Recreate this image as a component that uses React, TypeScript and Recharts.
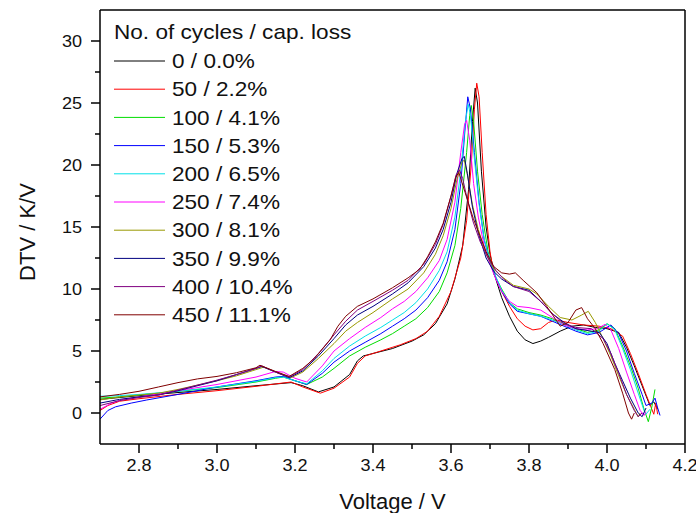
import React from 'react';
import { LineChart, Line, XAxis, YAxis, ReferenceLine } from 'recharts';

// ---- data: [Voltage (V), DTV (K/V)] ----
const c0: [number, number][] = [[2.70,1.1],[2.75,1.25],[2.80,1.4],[2.90,1.65],[3.00,1.9],[3.10,2.2],[3.19,2.45],[3.22,2.2],[3.26,1.7],[3.30,2.1],[3.34,3.1],[3.36,4.2],[3.375,4.6],[3.40,4.8],[3.45,5.2],[3.50,5.8],[3.53,6.3],[3.56,7.2],[3.59,8.8],[3.61,10.8],[3.63,13.5],[3.645,18.0],[3.655,23.5],[3.662,26.2],[3.668,25.0],[3.678,19.5],[3.69,15.0],[3.70,12.8],[3.715,10.8],[3.73,9.3],[3.75,7.8],[3.77,6.6],[3.79,5.9],[3.81,5.6],[3.83,5.8],[3.85,6.1],[3.88,6.6],[3.91,7.0],[3.94,7.1],[3.97,6.9],[4.00,6.8],[4.03,6.5],[4.05,5.3],[4.07,3.8],[4.09,2.2],[4.11,0.6],[4.12,0.9],[4.13,0.3]];
const c50: [number, number][] = [[2.70,0.2],[2.72,0.6],[2.75,0.95],[2.80,1.15],[2.90,1.5],[3.00,1.8],[3.10,2.15],[3.19,2.5],[3.22,2.1],[3.265,1.6],[3.30,2.0],[3.34,2.9],[3.36,4.0],[3.38,4.6],[3.42,5.0],[3.47,5.5],[3.51,6.0],[3.54,6.6],[3.57,7.8],[3.60,9.8],[3.625,12.5],[3.64,15.5],[3.652,20.0],[3.66,24.5],[3.666,26.6],[3.672,25.5],[3.68,21.0],[3.69,16.0],[3.70,13.0],[3.71,11.2],[3.73,9.8],[3.75,8.6],[3.77,7.6],[3.79,7.0],[3.81,6.7],[3.83,6.8],[3.85,7.3],[3.87,7.5],[3.90,7.3],[3.94,7.1],[3.98,7.0],[4.01,6.8],[4.04,6.2],[4.06,4.8],[4.08,3.2],[4.10,1.5],[4.115,0.3],[4.12,-0.1],[4.125,0.8],[4.13,-0.1]];
const c100: [number, number][] = [[2.70,1.2],[2.75,1.3],[2.80,1.45],[2.90,1.75],[3.00,2.05],[3.10,2.5],[3.15,2.8],[3.17,2.9],[3.20,2.6],[3.23,2.3],[3.27,2.9],[3.30,3.6],[3.34,4.6],[3.38,5.3],[3.42,5.9],[3.45,6.4],[3.48,7.0],[3.51,7.6],[3.54,8.5],[3.57,9.8],[3.59,11.3],[3.61,13.5],[3.625,16.5],[3.64,21.0],[3.648,24.0],[3.652,24.8],[3.658,23.5],[3.668,19.5],[3.68,16.0],[3.695,13.0],[3.71,11.2],[3.73,10.0],[3.75,8.9],[3.77,8.4],[3.80,8.1],[3.83,7.9],[3.86,7.6],[3.89,7.2],[3.92,6.8],[3.95,6.5],[3.98,6.7],[4.00,7.2],[4.02,6.8],[4.04,5.4],[4.06,3.8],[4.08,2.0],[4.095,0.3],[4.106,-0.7],[4.115,0.5],[4.123,1.9]];
const c150: [number, number][] = [[2.70,-0.5],[2.72,0.2],[2.74,0.5],[2.78,0.8],[2.82,1.05],[2.90,1.5],[3.00,2.1],[3.10,2.6],[3.15,2.9],[3.17,2.95],[3.20,2.6],[3.23,2.3],[3.27,3.2],[3.30,4.1],[3.34,5.0],[3.38,5.7],[3.42,6.4],[3.45,7.0],[3.48,7.6],[3.51,8.3],[3.54,9.3],[3.57,10.7],[3.59,12.2],[3.61,14.8],[3.625,18.5],[3.635,22.5],[3.643,25.5],[3.65,24.5],[3.66,21.0],[3.672,17.0],[3.685,14.0],[3.70,12.2],[3.715,10.9],[3.73,9.8],[3.75,8.8],[3.77,8.2],[3.80,8.0],[3.83,7.8],[3.86,7.4],[3.89,7.0],[3.92,6.6],[3.95,6.3],[3.98,6.5],[4.01,7.1],[4.03,6.4],[4.05,5.0],[4.07,3.2],[4.09,1.5],[4.10,0.6],[4.115,0.8],[4.123,1.2],[4.13,0.4],[4.136,-0.2]];
const c200: [number, number][] = [[2.70,1.35],[2.75,1.4],[2.80,1.5],[2.90,1.75],[3.00,2.1],[3.10,2.55],[3.15,2.85],[3.17,2.9],[3.20,2.6],[3.23,2.35],[3.27,3.4],[3.30,4.4],[3.34,5.4],[3.38,6.2],[3.42,6.9],[3.45,7.5],[3.48,8.1],[3.51,8.9],[3.54,10.0],[3.57,11.5],[3.59,13.0],[3.61,15.8],[3.625,19.5],[3.637,23.5],[3.644,24.9],[3.65,24.0],[3.66,20.5],[3.672,16.8],[3.685,14.0],[3.70,12.3],[3.715,11.0],[3.73,9.9],[3.75,8.9],[3.77,8.3],[3.80,8.0],[3.83,7.8],[3.86,7.5],[3.89,7.1],[3.92,6.7],[3.95,6.4],[3.98,6.6],[4.00,7.2],[4.02,6.7],[4.04,5.2],[4.06,3.5],[4.08,1.6],[4.095,0.2],[4.10,-0.1],[4.11,0.3]];
const c250: [number, number][] = [[2.70,0.3],[2.73,0.8],[2.76,1.1],[2.80,1.3],[2.90,1.8],[3.00,2.3],[3.10,2.9],[3.15,3.35],[3.17,3.3],[3.20,2.8],[3.23,2.5],[3.27,3.8],[3.30,5.0],[3.34,6.0],[3.38,6.9],[3.42,7.7],[3.45,8.4],[3.48,9.0],[3.51,9.8],[3.54,10.9],[3.57,12.3],[3.59,14.0],[3.61,17.0],[3.625,21.0],[3.635,23.3],[3.64,23.6],[3.648,22.0],[3.658,18.5],[3.67,15.8],[3.685,13.5],[3.70,12.0],[3.715,10.8],[3.73,9.8],[3.75,9.0],[3.77,8.6],[3.80,8.5],[3.83,8.3],[3.86,7.7],[3.89,7.1],[3.92,6.8],[3.95,6.7],[3.975,6.8],[3.995,7.15],[4.01,6.7],[4.03,5.2],[4.05,3.3],[4.07,1.5],[4.085,0.2],[4.095,-0.2],[4.10,0.1]];
const c300: [number, number][] = [[2.70,1.05],[2.75,1.3],[2.80,1.45],[2.85,1.6],[2.90,1.9],[3.00,2.6],[3.05,3.0],[3.10,3.5],[3.12,3.7],[3.16,3.2],[3.19,2.85],[3.22,3.3],[3.26,4.4],[3.30,5.6],[3.33,6.6],[3.36,7.3],[3.40,8.1],[3.45,9.2],[3.49,10.0],[3.53,11.3],[3.56,12.8],[3.58,14.3],[3.60,16.5],[3.615,18.8],[3.628,20.2],[3.634,20.4],[3.642,19.2],[3.655,16.8],[3.67,14.8],[3.69,12.8],[3.71,11.6],[3.73,11.0],[3.76,10.3],[3.80,10.0],[3.82,9.6],[3.85,8.6],[3.88,7.7],[3.91,7.5],[3.935,7.9],[3.952,8.2],[3.97,7.3],[3.99,6.0],[4.01,4.6],[4.03,3.0],[4.05,1.5],[4.07,0.3],[4.08,-0.3],[4.085,0]];
const c350: [number, number][] = [[2.70,0.8],[2.75,1.1],[2.80,1.3],[2.85,1.45],[2.90,1.8],[3.00,2.6],[3.05,3.1],[3.10,3.6],[3.115,3.75],[3.15,3.3],[3.185,2.85],[3.22,3.4],[3.26,4.6],[3.30,6.0],[3.33,7.1],[3.36,7.9],[3.40,8.6],[3.45,9.6],[3.49,10.5],[3.53,11.8],[3.56,13.3],[3.58,14.8],[3.60,17.0],[3.615,19.3],[3.628,20.5],[3.634,20.7],[3.642,19.3],[3.655,16.6],[3.67,14.5],[3.69,12.5],[3.71,11.4],[3.73,10.8],[3.76,10.2],[3.80,9.9],[3.83,9.0],[3.86,8.0],[3.89,7.3],[3.92,6.8],[3.96,6.6],[3.98,6.5],[4.00,5.6],[4.02,4.0],[4.04,2.6],[4.06,1.2],[4.08,0.0],[4.09,-0.3],[4.10,0.4]];
const c400: [number, number][] = [[2.70,0.6],[2.75,1.0],[2.80,1.25],[2.85,1.45],[2.90,1.85],[3.00,2.65],[3.05,3.1],[3.10,3.6],[3.115,3.8],[3.15,3.3],[3.185,2.9],[3.22,3.5],[3.26,4.8],[3.30,6.3],[3.33,7.4],[3.36,8.3],[3.40,9.0],[3.45,9.9],[3.49,10.7],[3.53,12.0],[3.56,13.6],[3.58,15.2],[3.60,17.5],[3.613,19.2],[3.622,19.6],[3.63,18.9],[3.642,17.2],[3.657,15.4],[3.675,13.8],[3.695,12.5],[3.715,11.5],[3.735,10.8],[3.76,10.2],[3.80,9.8],[3.83,9.0],[3.86,8.0],[3.89,7.2],[3.92,6.9],[3.96,6.8],[3.99,6.0],[4.01,4.8],[4.03,3.2],[4.05,1.5],[4.07,0.2],[4.08,-0.3],[4.09,0]];
const c450: [number, number][] = [[2.70,1.3],[2.75,1.5],[2.80,1.75],[2.85,2.1],[2.90,2.45],[2.95,2.75],[3.00,2.95],[3.05,3.25],[3.10,3.65],[3.11,3.85],[3.15,3.35],[3.185,2.95],[3.22,3.6],[3.25,4.4],[3.29,5.9],[3.31,7.0],[3.33,7.8],[3.36,8.6],[3.40,9.2],[3.45,10.1],[3.49,10.9],[3.52,11.6],[3.54,12.6],[3.56,13.8],[3.58,15.3],[3.60,17.5],[3.612,19.0],[3.62,19.4],[3.636,17.8],[3.657,15.7],[3.69,13.0],[3.71,11.8],[3.73,11.3],[3.75,11.2],[3.765,11.3],[3.785,10.7],[3.82,9.7],[3.85,8.4],[3.88,7.0],[3.90,7.3],[3.92,8.3],[3.935,8.5],[3.95,7.6],[3.97,6.8],[3.99,5.6],[4.02,3.5],[4.04,1.6],[4.055,0],[4.063,-0.5],[4.07,0]];

const legendLabels = ['0 / 0.0%','50 / 2.2%','100 / 4.1%','150 / 5.3%','200 / 6.5%','250 / 7.4%','300 / 8.1%','350 / 9.9%','400 / 10.4%','450 / 11.1%'];
const seriesColors = ['#000000','#ff0000','#00dd00','#0000ff','#00e0e8','#ff00ff','#999900','#000080','#800080','#800000'];
const seriesData = [c0, c50, c100, c150, c200, c250, c300, c350, c400, c450];
const legendTitle = 'No. of cycles / cap. loss';

const xDomain: [number, number] = [2.7, 4.2];
const yDomain: [number, number] = [-2.5, 32.5];
const xMajor = [2.8, 3.0, 3.2, 3.4, 3.6, 3.8, 4.0, 4.2];
const xMinor = [2.9, 3.1, 3.3, 3.5, 3.7, 3.9, 4.1];
const yMajor = [0, 5, 10, 15, 20, 25, 30];
const yMinor = [2.5, 7.5, 12.5, 17.5, 22.5, 27.5];

const FONT = '"Liberation Sans", Arial, sans-serif';
const SX = 1.13;

const isIn = (v: number, arr: number[]) => arr.some((a) => Math.abs(a - v) < 1e-6);

const XTick = (props: any) => {
  const { x, y, payload } = props;
  const major = isIn(payload.value, xMajor);
  return (
    <g>
      <line x1={x} x2={x} y1={y} y2={y + (major ? 9 : 5)} stroke="#000" strokeWidth={1.5} />
      {major && (
        <text transform={`translate(${x} ${y + 16}) scale(${SX} 1)`} x={0} y={0} dy="0.71em" textAnchor="middle" fontSize={16} fontFamily={FONT} fill="#111">
          {payload.value.toFixed(1)}
        </text>
      )}
    </g>
  );
};

const YTick = (props: any) => {
  const { x, y, payload } = props;
  const major = isIn(payload.value, yMajor);
  return (
    <g>
      <line x1={x} x2={x - (major ? 9 : 5)} y1={y} y2={y} stroke="#000" strokeWidth={1.5} />
      {major && (
        <text transform={`translate(${x - 18} ${y}) scale(${SX} 1)`} x={0} y={0} dy="0.36em" textAnchor="end" fontSize={16} fontFamily={FONT} fill="#111">
          {String(payload.value)}
        </text>
      )}
    </g>
  );
};

const YLabel = (props: any) => {
  const vb = props.viewBox || { x: 0, y: 10, width: 100, height: 434 };
  const cx = vb.x + 27;
  const cy = vb.y + vb.height / 2 + 5;
  return (
    <text transform={`translate(${cx} ${cy}) rotate(-90)`} x={0} y={0} dy="0.36em" textAnchor="middle" fontSize={22} fontFamily={FONT} fill="#111">
      DTV / K/V
    </text>
  );
};

const XLabel = (props: any) => {
  const vb = props.viewBox || { x: 100, y: 444, width: 585, height: 65 };
  return (
    <text x={vb.x + vb.width / 2} y={vb.y + vb.height} textAnchor="middle" fontSize={22} fontFamily={FONT} fill="#111">
      Voltage / V
    </text>
  );
};

const toPts = (arr: [number, number][]) => arr.map(([v, d]) => ({ v, d }));

export default function App() {
  const xTicks = [...xMajor, ...xMinor].sort((a, b) => a - b);
  const yTicks = [...yMajor, ...yMinor].sort((a, b) => a - b);
  return (
    <div style={{ position: 'absolute', left: 0, top: 0, width: 696, height: 513, background: '#fff' }}>
      <LineChart width={696} height={513} margin={{ top: 10, right: 11, bottom: 4, left: 0 }}>
        <XAxis
          dataKey="v"
          type="number"
          domain={xDomain}
          allowDataOverflow
          ticks={xTicks}
          interval={0}
          tick={<XTick />}
          tickSize={0}
          tickMargin={0}
          tickLine={false}
          height={65}
          axisLine={{ stroke: '#000', strokeWidth: 1.5 }}
          label={<XLabel />}
        />
        <YAxis
          type="number"
          domain={yDomain}
          allowDataOverflow
          ticks={yTicks}
          interval={0}
          tick={<YTick />}
          tickSize={0}
          tickMargin={0}
          tickLine={false}
          width={100}
          axisLine={{ stroke: '#000', strokeWidth: 1.5 }}
          label={<YLabel />}
        />
        <ReferenceLine y={yDomain[1]} stroke="#000" strokeWidth={1.5} ifOverflow="visible" />
        <ReferenceLine x={xDomain[1]} stroke="#000" strokeWidth={1.5} ifOverflow="visible" />
        {seriesData.map((s, i) => (
          <Line
            key={legendLabels[i]}
            data={toPts(s)}
            dataKey="d"
            type="linear"
            stroke={seriesColors[i]}
            strokeWidth={1}
            dot={false}
            activeDot={false}
            isAnimationActive={false}
          />
        ))}
      </LineChart>
      <svg width={696} height={513} style={{ position: 'absolute', left: 0, top: 0, pointerEvents: 'none' }}>
        <text transform={`translate(114 32) scale(${SX} 1)`} x={0} y={0} dy="0.36em" fontSize={20} fontFamily={FONT} fill="#111">
          {legendTitle}
        </text>
        {legendLabels.map((lab, i) => {
          const cy = 61 + i * 28.2;
          return (
            <g key={lab}>
              <line x1={114} x2={165} y1={cy} y2={cy} stroke={seriesColors[i]} strokeWidth={1} />
              <text transform={`translate(172 ${cy}) scale(${SX} 1)`} x={0} y={0} dy="0.36em" fontSize={20} fontFamily={FONT} fill="#111">
                {lab}
              </text>
            </g>
          );
        })}
      </svg>
    </div>
  );
}
